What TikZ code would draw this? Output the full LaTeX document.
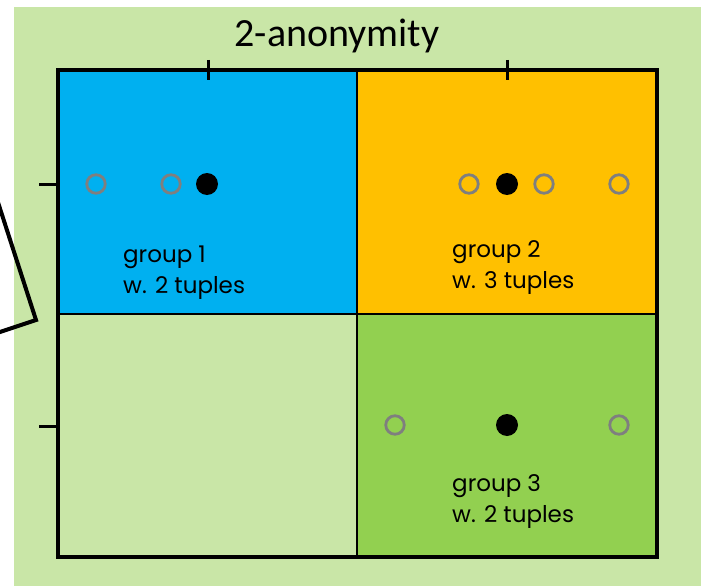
\documentclass[tikz,border=0pt]{standalone}
\usepackage{fontspec}
\setmainfont{Carlito}
\newfontfamily\handfont{Poppins}
\definecolor{bgGreen}{RGB}{201,230,167}
\definecolor{cellBlue}{RGB}{0,176,240}
\definecolor{cellOrange}{RGB}{255,192,0}
\definecolor{cellGreen}{RGB}{146,208,80}
\definecolor{dotGray}{RGB}{127,127,127}
\tikzset{
  cellbox/.style={draw=black, line width=1.3pt, inner sep=0pt, outer sep=0pt, anchor=north west},
  tickline/.style={line width=3pt},
  opendot/.style={circle, draw=dotGray, line width=2.8pt, minimum size=18.5pt, inner sep=0pt},
  fulldot/.style={circle, fill=black, minimum size=22pt, inner sep=0pt},
  grouplabel/.style={anchor=base west, align=left, inner sep=0pt, font=\handfont\fontsize{23}{31}\selectfont},
}
\begin{document}
\begin{tikzpicture}[x=1pt,y=-1pt]
\useasboundingbox (0,0) rectangle (705,586);
\clip (0,0) rectangle (705,586);
% slide background
\fill[bgGreen] (14,7) rectangle (701,586);

% four cells of the partition
\node[cellbox, fill=cellBlue,   minimum width=299pt, minimum height=244pt] (c11) at (58,70) {};
\node[cellbox, fill=cellOrange, minimum width=300pt, minimum height=244pt] (c12) at (357,70) {};
\node[cellbox, fill=bgGreen,    minimum width=299pt, minimum height=243pt] (c21) at (58,314) {};
\node[cellbox, fill=cellGreen,  minimum width=300pt, minimum height=243pt] (c22) at (357,314) {};

% outer frame
\draw[line width=3.5pt] (c11.north west) rectangle (c22.south east);

% axis ticks
\coordinate (tx1a) at (208,60); \coordinate (tx1b) at (208,80);
\coordinate (tx2a) at (507,60); \coordinate (tx2b) at (507,80);
\coordinate (ty1a) at (39,184); \coordinate (ty1b) at (58,184);
\coordinate (ty2a) at (39,426); \coordinate (ty2b) at (58,426);
\draw[tickline] (tx1a) -- (tx1b);
\draw[tickline] (tx2a) -- (tx2b);
\draw[tickline] (ty1a) -- (ty1b);
\draw[tickline] (ty2a) -- (ty2b);

% title
\node[font=\fontsize{40}{48}\selectfont, inner sep=0pt] (title) at (337,36) {2-anonymity};

% group 1 tuples
\node[opendot] (p1) at (96,184) {};
\node[opendot] (p2) at (171,184) {};
\node[fulldot] (q1) at (207,184) {};
% group 2 tuples
\node[opendot] (p3) at (469,184) {};
\node[fulldot] (q2) at (507,184) {};
\node[opendot] (p4) at (544,184) {};
\node[opendot] (p5) at (619,184) {};
% group 3 tuples
\node[opendot] (p6) at (395,425) {};
\node[fulldot] (q3) at (507,425) {};
\node[opendot] (p7) at (619,425) {};

% group labels (anchored on the baseline of the second line)
\node[grouplabel] (l1) at (123,293) {group 1\\w. 2 tuples};
\node[grouplabel] (l2) at (452,288) {group 2\\w. 3 tuples};
\node[grouplabel] (l3) at (452,522) {group 3\\w. 2 tuples};

% callout edge entering from the left
\coordinate (k0) at (-6,190);
\coordinate (k1) at (36,320);
\coordinate (k2) at (-6,334);
\draw[line width=4pt, line join=miter] (k0) -- (k1) -- (k2);
\end{tikzpicture}
\end{document}
